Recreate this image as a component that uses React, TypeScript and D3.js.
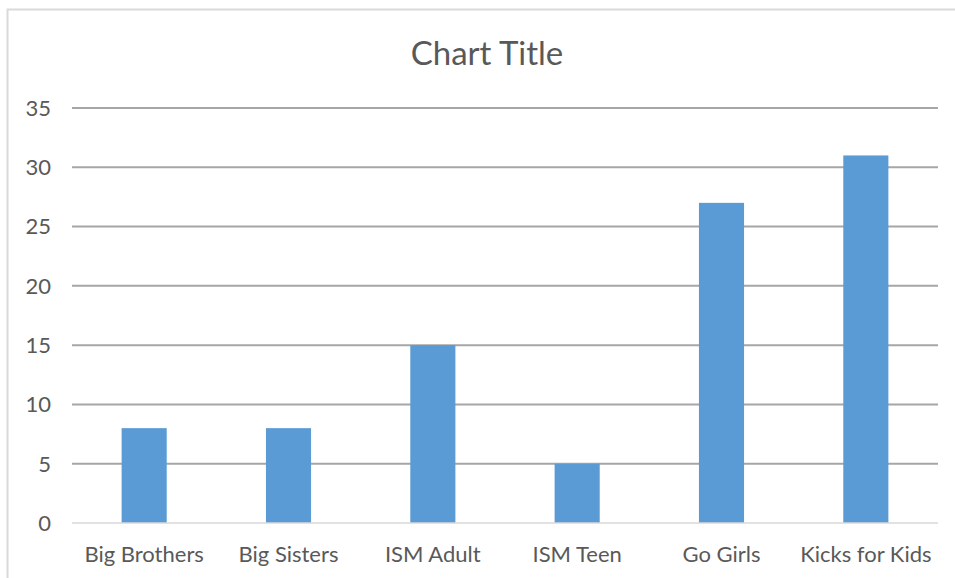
import React, { useRef, useEffect } from 'react';
import * as d3 from 'd3';

const categories = ['Big Brothers', 'Big Sisters', 'ISM Adult', 'ISM Teen', 'Go Girls', 'Kicks for Kids'];
const values = [8, 8, 15, 5, 27, 31];
const yTicks = [0, 5, 10, 15, 20, 25, 30, 35];

const App = () => {
  const svgRef = useRef<SVGSVGElement>(null);

  useEffect(() => {
    const W = 955;
    const H = 578;
    const svg = d3.select(svgRef.current).attr('width', W).attr('height', H);
    svg.selectAll('*').remove();

    // chart frame (partly cut off at right/bottom)
    svg.append('rect')
      .attr('x', 7.5).attr('y', 9.5)
      .attr('width', W + 10).attr('height', H + 10)
      .attr('fill', '#fff')
      .attr('stroke', '#d9d9d9')
      .attr('stroke-width', 2);

    const left = 72, right = 938, top = 108, bottom = 523;

    const x = d3.scaleBand().domain(categories).range([left, right]).paddingInner(0.6875).paddingOuter(0.34375);
    const y = d3.scaleLinear().domain([0, 35]).range([bottom, top]);

    // gridlines
    svg.append('g')
      .selectAll('line')
      .data(yTicks.filter(t => t !== 0))
      .join('line')
      .attr('x1', left).attr('x2', right)
      .attr('y1', d => y(d)).attr('y2', d => y(d))
      .attr('stroke', '#a6a6a6')
      .attr('stroke-width', 2);

    // bars
    svg.append('g')
      .selectAll('rect')
      .data(values)
      .join('rect')
      .attr('x', (d, i) => x(categories[i])!)
      .attr('y', d => y(d))
      .attr('width', x.bandwidth())
      .attr('height', d => y(0) - y(d))
      .attr('fill', '#5b9bd5');

    // baseline
    svg.append('line')
      .attr('x1', left).attr('x2', right)
      .attr('y1', y(0)).attr('y2', y(0))
      .attr('stroke', '#d9d9d9')
      .attr('stroke-width', 1.5);

    const font = 'Lato, "Open Sans", sans-serif';

    // y labels
    svg.append('g')
      .selectAll('text')
      .data(yTicks)
      .join('text')
      .attr('x', 51)
      .attr('y', d => y(d))
      .attr('dy', '0.36em')
      .attr('text-anchor', 'end')
      .attr('font-family', font)
      .attr('font-size', 22)
      .attr('fill', '#595959')
      .text(d => d);

    // x labels
    svg.append('g')
      .selectAll('text')
      .data(categories)
      .join('text')
      .attr('x', d => x(d)! + x.bandwidth() / 2)
      .attr('y', 562)
      .attr('text-anchor', 'middle')
      .attr('font-family', font)
      .attr('font-size', 22)
      .attr('fill', '#595959')
      .text(d => d);

    // title
    svg.append('text')
      .attr('x', 487)
      .attr('y', 65)
      .attr('text-anchor', 'middle')
      .attr('font-family', font)
      .attr('font-size', 33)
      .attr('fill', '#595959')
      .text('Chart Title');
  }, []);

  return <svg ref={svgRef} style={{ position: 'absolute', left: 0, top: 0, display: 'block' }}></svg>;
};

export default App;
